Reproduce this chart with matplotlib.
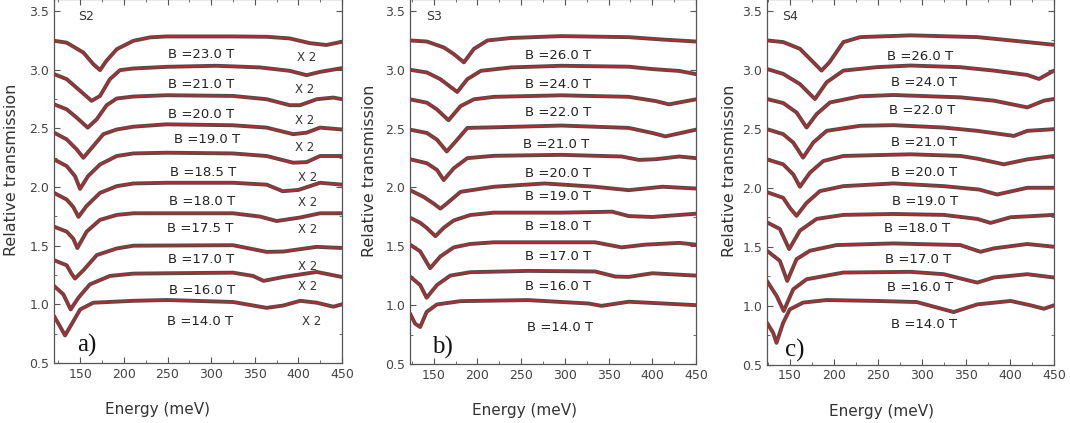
import matplotlib
matplotlib.use("Agg")
import matplotlib.pyplot as plt
from matplotlib.ticker import MultipleLocator

# -----------------------
# Data (energy in meV, relative transmission incl. offset)
# -----------------------

# S2 panel
s2_fields = ["23.0", "21.0", "20.0", "19.0", "18.5", "18.0", "17.5", "17.0", "16.0", "14.0"]
s2_energy = [
    [120, 134.5, 153.6, 165, 172.7, 180, 192, 211, 230, 249, 325, 363.6, 390, 413, 432, 450],
    [120, 134.5, 150, 163, 172.7, 184, 195.6, 211, 249, 306, 356, 390, 409.4, 424.7, 450],
    [120, 134.5, 146, 158.6, 168.9, 180.3, 191.8, 211, 249, 325, 363.6, 390, 401.8, 421, 440, 450],
    [120, 134.5, 146, 153.6, 165, 176.5, 191.8, 211, 249, 325, 363.6, 394, 409.4, 424.7, 450],
    [120, 134.5, 144, 149.8, 159, 172.7, 191.8, 211, 249, 325, 363.6, 394, 409.4, 424.7, 450],
    [120, 134.5, 142, 148, 157, 172.7, 191.8, 211, 249, 325, 363.6, 382, 400, 424.7, 450],
    [120, 134.5, 142, 146.7, 157.4, 172.7, 192, 211, 325, 356, 375, 402, 424.7, 450],
    [120, 134.5, 140, 144, 153.6, 169, 191.8, 211, 325, 363.6, 382.7, 421, 450],
    [120, 130.7, 139, 148, 161, 184, 211, 325, 348, 360, 382.7, 421, 450],
    [120, 127, 132.6, 140, 150, 165, 211, 249, 325, 363.6, 382.7, 402, 421, 440, 450],
]
s2_trans = [
    [3.246, 3.23, 3.146, 3.047, 2.996, 3.075, 3.175, 3.246, 3.275, 3.283, 3.283, 3.28, 3.266, 3.226, 3.21, 3.238],
    [2.962, 2.919, 2.819, 2.734, 2.776, 2.919, 2.996, 3.01, 3.024, 3.033, 3.019, 2.99, 2.953, 2.981, 3.013],
    [2.705, 2.662, 2.591, 2.506, 2.577, 2.697, 2.754, 2.771, 2.782, 2.776, 2.748, 2.697, 2.697, 2.748, 2.762, 2.748],
    [2.463, 2.406, 2.32, 2.249, 2.349, 2.45, 2.49, 2.514, 2.534, 2.526, 2.506, 2.45, 2.463, 2.506, 2.49],
    [2.235, 2.178, 2.093, 1.984, 2.093, 2.192, 2.264, 2.286, 2.292, 2.286, 2.264, 2.207, 2.212, 2.264, 2.264],
    [1.95, 1.893, 1.83, 1.745, 1.836, 1.95, 2.007, 2.03, 2.036, 2.036, 2.02, 1.964, 1.975, 2.036, 2.02],
    [1.662, 1.62, 1.56, 1.48, 1.62, 1.72, 1.762, 1.776, 1.776, 1.748, 1.71, 1.74, 1.776, 1.776],
    [1.376, 1.333, 1.262, 1.22, 1.29, 1.42, 1.476, 1.5, 1.504, 1.447, 1.45, 1.49, 1.48],
    [1.157, 1.085, 0.957, 1.057, 1.17, 1.242, 1.262, 1.27, 1.242, 1.2, 1.233, 1.276, 1.233],
    [0.9, 0.81, 0.735, 0.829, 0.957, 1.014, 1.03, 1.037, 1.02, 0.97, 0.99, 1.03, 1.014, 0.98, 1.0],
]
s2_label_x = [289, 288, 288, 295, 291, 290, 288, 289, 290, 287]
s2_label_y = [3.13, 2.876, 2.62, 2.406, 2.121, 1.879, 1.648, 1.378, 1.12, 0.85]
s2_x2_x = [409, 407, 407, 407, 411, 411, 411, 411, 411, 415]
s2_x2_y = [3.104, 2.833, 2.563, 2.335, 2.078, 1.865, 1.634, 1.321, 1.15, 0.85]

# S3 panel
s3_fields = ["26.0", "24.0", "22.0", "21.0", "20.0", "19.0", "18.0", "17.0", "16.0", "14.0"]
s3_energy = [
    [123, 142.3, 161.5, 173, 184.6, 196, 211.5, 238.5, 296, 373, 411.5, 450],
    [123, 142.3, 157.7, 177, 188.5, 204, 238.5, 296, 373, 400, 430.8, 450],
    [123, 142.3, 153.8, 167, 180.8, 196, 219, 296, 373, 404, 419, 450],
    [123, 142.3, 153.8, 165, 177, 188.5, 219, 296, 373, 400, 415, 450],
    [123, 142.3, 153.8, 161.5, 173, 188.5, 219, 296, 365, 384.6, 404, 430.8, 450],
    [123, 138.5, 150, 157.7, 165, 180.8, 219, 277, 334.6, 373, 411.5, 450],
    [123, 134.6, 142, 152, 161.5, 173, 192, 219, 296, 354, 373, 400, 450],
    [123, 134.6, 146, 157.7, 173, 192, 219, 334.6, 365, 392, 430.8, 450],
    [123, 134.6, 142, 153.8, 169, 192, 257.7, 334.6, 357.7, 373, 400, 450],
    [123, 128.8, 134.6, 142, 153.8, 180.8, 257.7, 327, 342, 373, 450],
]
s3_trans = [
    [3.249, 3.24, 3.19, 3.134, 3.063, 3.177, 3.249, 3.27, 3.286, 3.277, 3.257, 3.24],
    [3.0, 2.977, 2.92, 2.811, 2.92, 2.991, 3.02, 3.034, 3.026, 3.006, 2.99, 2.963],
    [2.749, 2.72, 2.663, 2.571, 2.691, 2.749, 2.77, 2.783, 2.77, 2.734, 2.706, 2.749],
    [2.491, 2.463, 2.406, 2.306, 2.406, 2.506, 2.511, 2.526, 2.506, 2.463, 2.434, 2.491],
    [2.24, 2.206, 2.149, 2.063, 2.163, 2.249, 2.269, 2.277, 2.263, 2.234, 2.24, 2.263, 2.249],
    [1.977, 1.92, 1.863, 1.82, 1.863, 1.963, 2.006, 2.034, 2.006, 1.977, 2.006, 1.991],
    [1.743, 1.7, 1.657, 1.586, 1.657, 1.72, 1.766, 1.786, 1.786, 1.794, 1.757, 1.749, 1.777],
    [1.514, 1.457, 1.314, 1.414, 1.491, 1.52, 1.534, 1.534, 1.491, 1.514, 1.529, 1.514],
    [1.243, 1.171, 1.063, 1.171, 1.251, 1.28, 1.291, 1.286, 1.243, 1.24, 1.271, 1.251],
    [0.929, 0.843, 0.814, 0.943, 1.006, 1.034, 1.043, 1.014, 0.994, 1.029, 1.0],
]
s3_label_x = [292, 292, 292, 290, 292, 292, 292, 292, 292, 294]
s3_label_y = [3.12, 2.877, 2.634, 2.363, 2.12, 1.92, 1.671, 1.414, 1.157, 0.814]

# S4 panel
s4_fields = ["26.0", "24.0", "22.0", "21.0", "20.0", "19.0", "18.0", "17.0", "16.0", "14.0"]
s4_energy = [
    [124, 142.4, 161.4, 176.6, 186, 195, 210.8, 230, 287, 363, 400.7, 450],
    [124, 142.4, 161.4, 178.5, 191.8, 210.8, 248.7, 287, 343.7, 381.7, 419.7, 433, 450],
    [124, 142.4, 157.6, 169, 180.4, 195.6, 230, 267.7, 343.7, 381.7, 419.7, 438.6, 450],
    [124, 142.4, 153.8, 165, 176.6, 191.8, 230, 267.7, 324.7, 363, 404.5, 419.7, 450],
    [124, 142.4, 153.8, 161.4, 172.8, 188, 210.8, 287, 343.7, 363, 393, 419.7, 450],
    [124, 142.4, 150, 157.6, 169, 184.2, 210.8, 267.7, 324.7, 365, 385.5, 419.7, 450],
    [124, 138.6, 149.2, 161.4, 180.4, 210.8, 267.7, 324.7, 363, 378, 400.7, 450],
    [124, 138.6, 147, 157.6, 172.8, 203, 267.7, 343.7, 366.5, 381.7, 419.7, 450],
    [124, 135, 143, 153.8, 169, 210.8, 287, 324.7, 355, 363, 381.7, 419.7, 450],
    [124, 131, 134.8, 142.4, 150, 165, 191.8, 248.7, 294, 324.7, 336, 363, 400.7, 423.5, 438.6, 450],
]
s4_trans = [
    [3.25, 3.236, 3.179, 3.065, 2.994, 3.065, 3.236, 3.278, 3.293, 3.278, 3.25, 3.213],
    [3.008, 2.966, 2.88, 2.753, 2.895, 2.994, 3.023, 3.037, 3.023, 2.994, 2.957, 2.923, 2.994],
    [2.753, 2.719, 2.639, 2.511, 2.625, 2.724, 2.776, 2.787, 2.767, 2.739, 2.682, 2.739, 2.753],
    [2.497, 2.455, 2.384, 2.256, 2.384, 2.483, 2.526, 2.531, 2.511, 2.483, 2.44, 2.483, 2.497],
    [2.241, 2.199, 2.114, 2.009, 2.128, 2.227, 2.27, 2.284, 2.27, 2.247, 2.199, 2.241, 2.27],
    [1.963, 1.915, 1.83, 1.762, 1.872, 1.972, 2.014, 2.037, 2.014, 1.985, 1.943, 2.0, 2.0],
    [1.707, 1.651, 1.48, 1.636, 1.736, 1.77, 1.778, 1.77, 1.736, 1.702, 1.75, 1.77],
    [1.466, 1.381, 1.21, 1.395, 1.466, 1.514, 1.528, 1.514, 1.457, 1.486, 1.523, 1.5],
    [1.21, 1.082, 0.955, 1.139, 1.224, 1.281, 1.287, 1.267, 1.21, 1.196, 1.239, 1.267, 1.239],
    [0.855, 0.77, 0.685, 0.855, 0.969, 1.026, 1.048, 1.04, 1.031, 0.969, 0.946, 1.011, 1.04, 1.003, 0.974, 1.003],
]
s4_label_x = [298, 302, 300, 302, 302, 304, 294, 296, 298, 302]
s4_label_y = [3.11, 2.895, 2.653, 2.384, 2.128, 1.886, 1.651, 1.395, 1.153, 0.841]

# -----------------------
# Plot
# -----------------------
DATA_GRAY = "#4d4d4d"
FIT_RED = "#b8292c"
AX_GRAY = "#555555"

fig = plt.figure(figsize=(10.7, 4.23), dpi=100)

panels = [
    # rect, xmin, name, letter, letter pos, ylabel x, xlabel x
    ([0.0505, 0.1418, 0.2692, 0.8600], 120, "S2", "a)", (146, 0.6), -0.12, 0.36),
    ([0.3832, 0.1395, 0.2673, 0.8625], 123, "S3", "b)", (148, 0.59), -0.115, 0.40),
    ([0.7168, 0.1380, 0.2682, 0.8640], 124, "S4", "c)", (144.5, 0.57), -0.103, 0.40),
]
energies = [s2_energy, s3_energy, s4_energy]
transes = [s2_trans, s3_trans, s4_trans]
fields = [s2_fields, s3_fields, s4_fields]
label_xs = [s2_label_x, s3_label_x, s4_label_x]
label_ys = [s2_label_y, s3_label_y, s4_label_y]

for i, (rect, xmin, name, letter, lpos, ylx, xlx) in enumerate(panels):
    ax = fig.add_axes(rect)
    for E, T in zip(energies[i], transes[i]):
        ax.plot(E, T, color=DATA_GRAY, lw=2.8, solid_capstyle="round", zorder=2)
        ax.plot(E, T, color=FIT_RED, lw=1.3, zorder=3)

    for f, lx, ly in zip(fields[i], label_xs[i], label_ys[i]):
        ax.text(lx, ly, "B =" + f + " T", ha="center", va="center",
                fontsize=9.5, color="#222222")
    if i == 0:
        for x2x, x2y in zip(s2_x2_x, s2_x2_y):
            ax.text(x2x, x2y, "X 2", ha="center", va="center",
                    fontsize=8.5, color="#333333")

    ax.text(157 if i == 0 else 150, 3.45, name, ha="center", va="center",
            fontsize=9, color="#333333")
    ax.text(lpos[0], lpos[1], letter, ha="left", va="baseline",
            fontsize=18, family="Liberation Serif", color="#111111")

    ax.set_xlim(xmin, 450)
    ax.set_ylim(0.5, 3.6)
    ax.xaxis.set_major_locator(MultipleLocator(50))
    ax.xaxis.set_minor_locator(MultipleLocator(25))
    ax.yaxis.set_major_locator(MultipleLocator(0.5))
    ax.yaxis.set_minor_locator(MultipleLocator(0.25))
    ax.tick_params(which="both", direction="in", top=True, right=True,
                   colors=AX_GRAY, labelcolor="#444444", labelsize=9)
    ax.tick_params(which="major", length=4, width=0.8)
    ax.tick_params(which="minor", length=2, width=0.6)
    for s in ax.spines.values():
        s.set_color(AX_GRAY)
        s.set_linewidth(0.9)

    ax.set_ylabel("Relative transmission", fontsize=11.5, color="#333333")
    ax.yaxis.set_label_coords(ylx, 0.53)
    ax.set_xlabel("Energy (meV)", fontsize=11, color="#333333")
    ax.xaxis.set_label_coords(xlx, -0.108)

fig.savefig("out.png", dpi=100)
